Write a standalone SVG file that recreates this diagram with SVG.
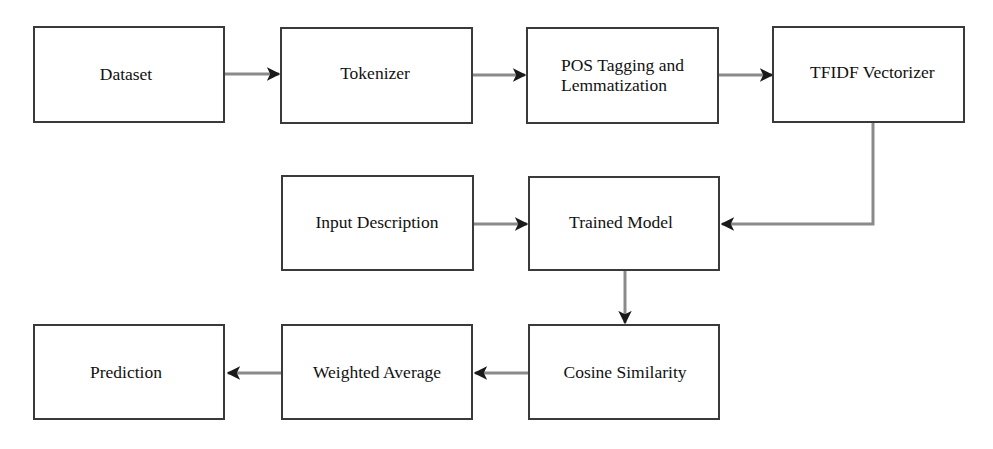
<svg xmlns="http://www.w3.org/2000/svg" width="993" height="449" viewBox="0 0 993 449">
<style>
.box{fill:#fff;stroke:#3a3a3a;stroke-width:2}
.lbl{font-family:"Liberation Serif","Times New Roman",serif;font-size:17.5px;fill:#111}
.c{text-anchor:middle}
.conn{fill:none;stroke:#8a8a8a;stroke-width:3}
</style>
<defs>
<marker id="ah" viewBox="0 0 10 10" refX="9" refY="5" markerWidth="4.5" markerHeight="4.5" orient="auto" markerUnits="strokeWidth">
<path d="M0,0 L10,5 L0,10 L2.5,5 Z" fill="#1a1a1a"/>
</marker>
</defs>
<rect width="993" height="449" fill="#fff"/>
<g id="connectors">
<line class="conn" x1="225" y1="74" x2="279" y2="74" marker-end="url(#ah)"/>
<line class="conn" x1="473" y1="75" x2="525" y2="75" marker-end="url(#ah)"/>
<line class="conn" x1="719" y1="75" x2="772" y2="75" marker-end="url(#ah)"/>
<polyline class="conn" points="873,123 873,224 722,224" marker-end="url(#ah)"/>
<line class="conn" x1="474" y1="224" x2="527" y2="224" marker-end="url(#ah)"/>
<line class="conn" x1="625" y1="271" x2="625" y2="323" marker-end="url(#ah)"/>
<line class="conn" x1="528" y1="373" x2="475" y2="373" marker-end="url(#ah)"/>
<line class="conn" x1="281" y1="373" x2="228" y2="373" marker-end="url(#ah)"/>
</g>
<g id="dataset"><rect class="box" x="34" y="27" width="190" height="95"/><text class="lbl c" x="126" y="80">Dataset</text></g>
<g id="tokenizer"><rect class="box" x="281" y="28" width="191" height="95"/><text class="lbl c" x="375" y="79">Tokenizer</text></g>
<g id="pos"><rect class="box" x="527" y="28" width="191" height="95"/><text class="lbl" x="561" y="71">POS Tagging and</text><text class="lbl" x="561" y="91">Lemmatization</text></g>
<g id="tfidf"><rect class="box" x="773" y="27" width="191" height="95"/><text class="lbl" x="810" y="78">TFIDF Vectorizer</text></g>
<g id="input"><rect class="box" x="282" y="176" width="191" height="94"/><text class="lbl c" x="377" y="228">Input Description</text></g>
<g id="trained"><rect class="box" x="529" y="177" width="190" height="93"/><text class="lbl c" x="621" y="228">Trained Model</text></g>
<g id="prediction"><rect class="box" x="34" y="325" width="190" height="94"/><text class="lbl c" x="126" y="378">Prediction</text></g>
<g id="weighted"><rect class="box" x="282" y="325" width="190" height="94"/><text class="lbl c" x="377" y="378">Weighted Average</text></g>
<g id="cosine"><rect class="box" x="529" y="325" width="190" height="94"/><text class="lbl c" x="625" y="378">Cosine Similarity</text></g>
</svg>
